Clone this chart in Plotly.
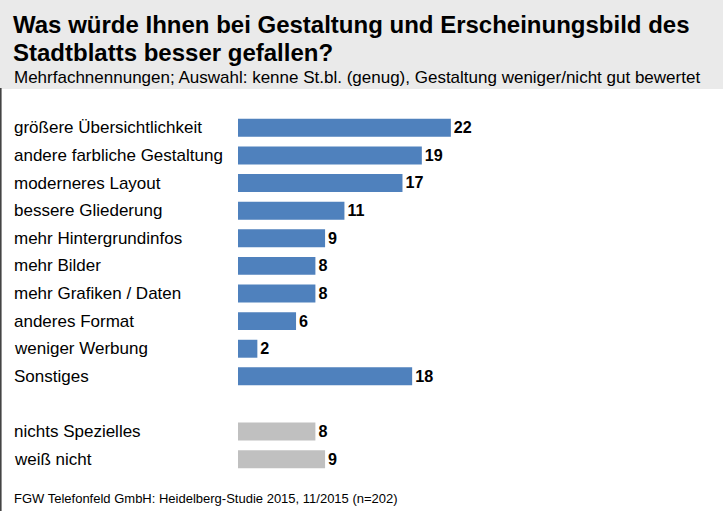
import plotly.graph_objects as go

# ---- data ----
main_labels = ["größere Übersichtlichkeit", "andere farbliche Gestaltung", "moderneres Layout",
               "bessere Gliederung", "mehr Hintergrundinfos", "mehr Bilder",
               "mehr Grafiken / Daten", "anderes Format", "weniger Werbung", "Sonstiges"]
main_values = [22, 19, 17, 11, 9, 8, 8, 6, 2, 18]
other_labels = ["nichts Spezielles", "weiß nicht"]
other_values = [8, 9]
spacer = " "
category_order = main_labels + [spacer] + other_labels

title_line1 = "Was würde Ihnen bei Gestaltung und Erscheinungsbild des"
title_line2 = "Stadtblatts besser gefallen?"
subtitle = "Mehrfachnennungen; Auswahl: kenne St.bl. (genug), Gestaltung weniger/nicht gut bewertet"
footer = "FGW Telefonfeld GmbH: Heidelberg-Studie 2015, 11/2015 (n=202)"

# ---- layout geometry ----
W, H = 723, 511
ML, MR, MT, MB = 238, 98, 114, 38
PW, PH = W - ML - MR, H - MT - MB

def px2x(px):
    return (px - ML) / PW

def px2y(py):
    return (H - MB - py) / PH

FONT = "Liberation Sans, Arial, sans-serif"
BLUE = "#4f81bd"
GRAY = "#c0c0c0"

fig = go.Figure()
fig.add_trace(go.Bar(
    x=main_values, y=main_labels, orientation="h",
    marker=dict(color=BLUE, line=dict(width=0)),
    text=[f"<b>{v}</b>" for v in main_values], textposition="outside",
    textfont=dict(family=FONT, size=18, color="#000"), cliponaxis=False,
    hoverinfo="skip",
))
fig.add_trace(go.Bar(
    x=other_values, y=other_labels, orientation="h",
    marker=dict(color=GRAY, line=dict(width=0)),
    text=[f"<b>{v}</b>" for v in other_values], textposition="outside",
    textfont=dict(family=FONT, size=18, color="#000"), cliponaxis=False,
    hoverinfo="skip",
))

annotations = []
for lab in main_labels + other_labels:
    annotations.append(dict(
        text=lab, x=px2x(12), xref="paper", y=lab, yref="y",
        xanchor="left", yanchor="middle", showarrow=False,
        font=dict(family=FONT, size=17, color="#000"),
    ))

annotations += [
    dict(text=f"<b>{title_line1}</b>", x=px2x(11), y=px2y(25), xref="paper", yref="paper",
         xanchor="left", yanchor="middle", showarrow=False,
         font=dict(family=FONT, size=24, color="#000")),
    dict(text=f"<b>{title_line2}</b>", x=px2x(11), y=px2y(53), xref="paper", yref="paper",
         xanchor="left", yanchor="middle", showarrow=False,
         font=dict(family=FONT, size=24, color="#000")),
    dict(text=subtitle, x=px2x(12), y=px2y(78), xref="paper", yref="paper",
         xanchor="left", yanchor="middle", showarrow=False,
         font=dict(family=FONT, size=17, color="#000")),
    dict(text=footer, x=px2x(12), y=px2y(498), xref="paper", yref="paper",
         xanchor="left", yanchor="middle", showarrow=False,
         font=dict(family=FONT, size=13, color="#000")),
]

shapes = [
    dict(type="rect", xref="paper", yref="paper",
         x0=px2x(0), x1=px2x(W), y0=px2y(89), y1=px2y(0),
         fillcolor="#eaeaea", line=dict(width=0), layer="below"),
    dict(type="line", xref="paper", yref="paper",
         x0=px2x(0.8), x1=px2x(0.8), y0=px2y(88), y1=px2y(H),
         line=dict(color="#444444", width=1.6)),
]

fig.update_layout(
    width=W, height=H,
    margin=dict(l=ML, r=MR, t=MT, b=MB, pad=0),
    paper_bgcolor="white", plot_bgcolor="white",
    barmode="overlay", bargap=0.35, showlegend=False,
    xaxis=dict(range=[0, 40], visible=False, fixedrange=True),
    yaxis=dict(type="category", categoryorder="array", categoryarray=category_order,
               range=[len(category_order) - 0.5, -0.5], showticklabels=False,
               showgrid=False, zeroline=False, showline=False, ticks="", fixedrange=True),
    annotations=annotations, shapes=shapes,
    font=dict(family=FONT),
)

fig.write_html("out.html", config={"displayModeBar": False},
               post_script="document.body.style.margin='0';document.body.style.padding='0';")
